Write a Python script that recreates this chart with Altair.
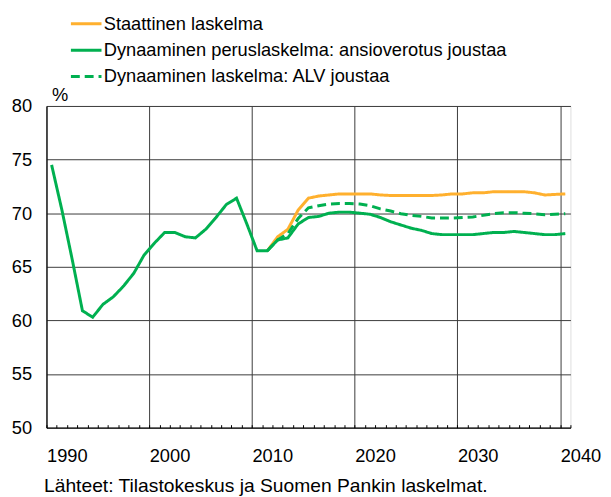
import altair as alt
import pandas as pd

# ---- data ----
years = list(range(1990, 2041))
perus = [74.5, 70.3, 65.7, 60.9, 60.3, 61.5, 62.2, 63.2, 64.4, 66.1,
         67.2, 68.2, 68.2, 67.8, 67.7, 68.5, 69.6, 70.8, 71.4, 69.0,
         66.5, 66.5, 67.5, 67.7, 69.0, 69.6, 69.7, 70.0, 70.1, 70.1,
         70.0, 69.9, 69.6, 69.2, 68.9, 68.6, 68.4, 68.1, 68.0, 68.0,
         68.0, 68.0, 68.1, 68.2, 68.2, 68.3, 68.2, 68.1, 68.0, 68.0, 68.1]
proj_years = list(range(2011, 2041))
staattinen = [66.5, 67.8, 68.5, 70.3, 71.4, 71.6, 71.7, 71.8, 71.8, 71.8,
              71.8, 71.7, 71.65, 71.65, 71.65, 71.65, 71.65, 71.7, 71.8, 71.8,
              71.9, 71.9, 72.0, 72.0, 72.0, 72.0, 71.9, 71.7, 71.75, 71.8]
alv = [66.5, 67.5, 68.1, 69.5, 70.5, 70.7, 70.85, 70.9, 70.9, 70.85,
       70.7, 70.4, 70.2, 69.95, 69.8, 69.7, 69.55, 69.55, 69.55, 69.6,
       69.65, 69.8, 69.95, 70.05, 70.05, 70.0, 69.95, 69.85, 69.9, 69.95]

labels = ["Staattinen laskelma",
          "Dynaaminen peruslaskelma: ansioverotus joustaa",
          "Dynaaminen laskelma: ALV joustaa"]
colors = ["#FFB02E", "#00B050", "#00B050"]
dashes = [[1, 0], [1, 0], [9, 5]]
x_ticks = [1990, 2000, 2010, 2020, 2030, 2040]
minor_ticks = list(range(1990, 2042))
y_ticks = [50, 55, 60, 65, 70, 75, 80]
source = "Lähteet: Tilastokeskus ja Suomen Pankin laskelmat."

rows = []
for yr, v in zip(proj_years, staattinen):
    rows.append({"x": yr + 0.5, "v": v, "s": labels[0]})
for yr, v in zip(years, perus):
    rows.append({"x": yr + 0.5, "v": v, "s": labels[1]})
for yr, v in zip(proj_years, alv):
    rows.append({"x": yr + 0.5, "v": v, "s": labels[2]})
df = pd.DataFrame(rows)

FONT = "Liberation Sans"
W, H = 531, 326

xscale = alt.Scale(domain=[1990, 2041], nice=False, zero=False)
yscale = alt.Scale(domain=[50, 80], nice=False, zero=False)

legend = alt.Legend(
    orient="none", legendX=31, legendY=-92.5, title=None,
    symbolType="M-3.1,0H3.1", symbolSize=100, symbolStrokeWidth=3,
    labelFontSize=18.5, labelFont=FONT, labelColor="black",
    labelOffset=8.5, rowPadding=7.7, padding=0, labelLimit=0,
    direction="vertical",
)

lines = alt.Chart(df).mark_line(strokeWidth=3, strokeCap="butt").encode(
    x=alt.X("x:Q", scale=xscale,
            axis=alt.Axis(values=x_ticks, format="d", grid=True,
                          gridColor="#3a3a3a", gridWidth=1, ticks=False,
                          domain=True, domainColor="black",
                          labelAlign="left", labelBaseline="alphabetic",
                          labelPadding=34, labelFontSize=18.5,
                          labelColor="black", labelFont=FONT, title=None)),
    y=alt.Y("v:Q", scale=yscale,
            axis=alt.Axis(values=y_ticks, grid=True, gridColor="#3a3a3a",
                          gridWidth=1, ticks=False, domain=True,
                          domainColor="black", labelPadding=15,
                          labelFontSize=18.5, labelColor="black",
                          labelFont=FONT, title="%", titleAngle=0,
                          titleX=5, titleY=-6, titleAlign="left",
                          titleBaseline="alphabetic", titleFontSize=18.5,
                          titleFontWeight="normal", titleFont=FONT,
                          titleColor="black")),
    color=alt.Color("s:N", scale=alt.Scale(domain=labels, range=colors),
                    legend=legend),
    strokeDash=alt.StrokeDash("s:N", scale=alt.Scale(domain=labels, range=dashes),
                              legend=legend),
    order=alt.Order("x:Q"),
)

minor = alt.Chart(pd.DataFrame({"yr": minor_ticks})).mark_point(opacity=0).encode(
    x=alt.X("yr:Q", scale=xscale,
            axis=alt.Axis(values=minor_ticks, orient="bottom", offset=-3,
                          tickSize=3, ticks=True, tickColor="black",
                          labels=False, domain=False, grid=False, title=None)),
)

src = alt.Chart(pd.DataFrame({"t": [source]})).mark_text(
    align="left", baseline="alphabetic", fontSize=19.5, font=FONT, color="black"
).encode(text="t:N", x=alt.value(-2.5), y=alt.value(391))

chart = alt.layer(lines, minor, src).resolve_axis(x="independent").properties(
    width=W, height=H,
    autosize=alt.AutoSizeParams(type="none"),
    padding={"left": 39, "top": 96, "right": 33, "bottom": 67},
).configure_view(stroke="black", strokeWidth=1).configure(font=FONT)

chart.save("out.html", embed_options={"renderer": "svg", "actions": False})
